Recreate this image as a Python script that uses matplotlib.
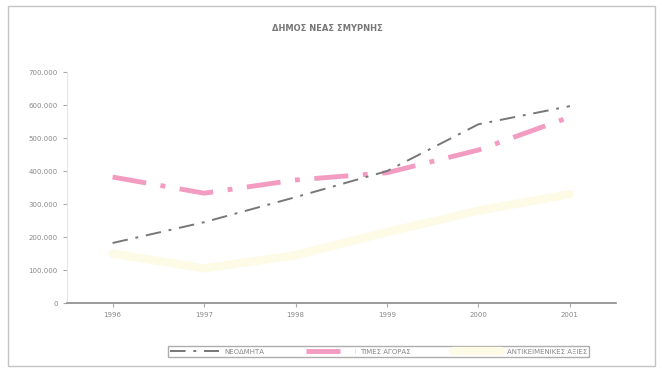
import matplotlib
matplotlib.use('Agg')
from matplotlib import pyplot as plt
from matplotlib.patches import Rectangle

years = ['1996', '1997', '1998', '1999', '2000', '2001']
neoi = [182000, 245000, 321000, 400000, 542000, 597000]
times_agoras = [382000, 333000, 373000, 395000, 464000, 564000]
antikeimenikes = [150000, 105000, 145000, 215000, 280000, 330000]
yticks = [0, 100000, 200000, 300000, 400000, 500000, 600000, 700000]

plt.rcParams['font.family'] = ['DejaVu Sans']

fig = plt.figure(figsize=(6.62, 3.70), dpi=100)
fig.patch.set_facecolor('white')

# outer frame of the chart
fig.patches.append(Rectangle((0.012, 0.012), 0.978, 0.972, transform=fig.transFigure,
                             fill=False, edgecolor='#c4c4c4', linewidth=1.0))

ax = fig.add_axes([0.101, 0.181, 0.829, 0.624])
x = range(len(years))

ax.plot(x, antikeimenikes, color='#fdfae6', linewidth=6, solid_capstyle='round',
        label='ΑΝΤΙΚΕΙΜΕΝΙΚΕΣ ΑΞΙΕΣ', zorder=1)
ax.plot(x, times_agoras, color='#f39cc2', linewidth=3.5, dashes=(7, 3, 1, 3),
        label='ΤΙΜΕΣ ΑΓΟΡΑΣ', zorder=2)
ax.plot(x, neoi, color='#777777', linewidth=1.4, dashes=(8, 4, 1.5, 4),
        label='ΝΕΟΔΜΗΤΑ', zorder=3)

ax.set_xlim(-0.5, 5.5)
ax.set_ylim(0, 700000)
ax.set_xticks(list(x))
ax.set_xticklabels(years, fontsize=5, color='#888888')
ax.set_yticks(yticks)
ax.set_yticklabels(['0' if v == 0 else f'{v // 1000}.000' for v in yticks],
                   fontsize=5, color='#888888')
ax.tick_params(axis='both', length=3, color='#aaaaaa')

for side in ['top', 'right']:
    ax.spines[side].set_visible(False)
ax.spines['bottom'].set_color('#8a8a8a')
ax.spines['bottom'].set_linewidth(1.2)
ax.spines['left'].set_color('#e6e6e6')

fig.text(0.495, 0.924, 'ΔΗΜΟΣ ΝΕΑΣ ΣΜΥΡΝΗΣ', ha='center', va='center',
         fontsize=6, fontweight='bold', color='#777777')

handles, labels = ax.get_legend_handles_labels()
leg = fig.legend(handles[::-1], labels[::-1], loc='center', bbox_to_anchor=(0.572, 0.05),
                 ncol=3, fontsize=5, frameon=True, fancybox=False, edgecolor='#999999',
                 handlelength=7, columnspacing=6, borderpad=0.3)
for t in leg.get_texts():
    t.set_color('#888888')

fig.savefig('out.png', dpi=100)
